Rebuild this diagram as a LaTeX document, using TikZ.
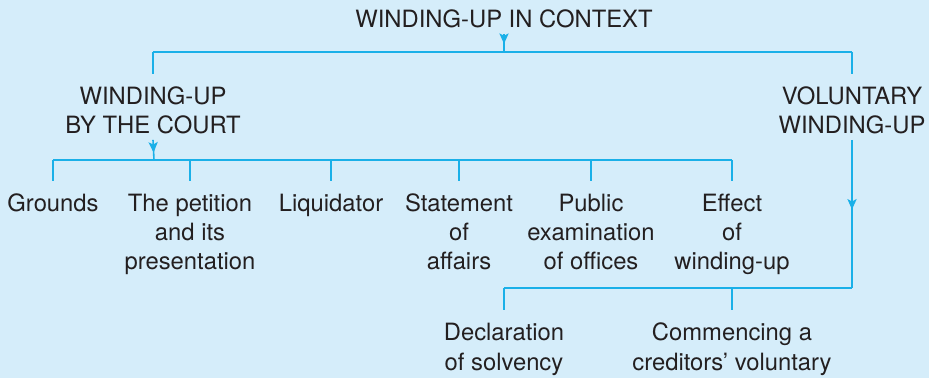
\documentclass[tikz,border=0pt]{standalone}
\usepackage{fontspec}
\setmainfont{TeX Gyre Heros}
\usetikzlibrary{arrows.meta,decorations.markings}
\definecolor{figBg}{HTML}{D5EDFA}
\definecolor{figLine}{HTML}{1AB0E8}
\definecolor{figText}{HTML}{231F20}

\begin{document}
\begin{tikzpicture}[x=0.5pt,y=-0.5pt,
  lbl/.style={anchor=base,align=center,inner sep=2.5pt,text=figText,font=\fontsize{11.9pt}{14.5pt}\selectfont},
  cline/.style={figLine,line width=0.8pt},
  drop/.style={cline,shorten >=4pt},
  midarrow/.style={postaction={decorate},decoration={markings,mark=at position #1 with {\arrow{Stealth[length=5.2pt,width=4.6pt,inset=1.2pt]}}}}]
\fill[figBg] (0,0) rectangle (929,378);
\useasboundingbox (0,0) rectangle (929,378);
\node[lbl] (context) at (504,28) {WINDING-UP IN CONTEXT};
\node[lbl] (court) at (153,134) {WINDING-UP\\BY THE COURT};
\node[lbl] (voluntary) at (852,134) {VOLUNTARY\\WINDING-UP};
\node[lbl] (grounds) at (53,212) {Grounds};
\node[lbl] (petition) at (190,270) {The petition\\and its\\presentation};
\node[lbl] (liquidator) at (331,212) {Liquidator};
\node[lbl] (statement) at (459,270) {Statement\\of\\affairs};
\node[lbl] (publicex) at (591,270) {Public\\examination\\of offices};
\node[lbl] (effect) at (732,270) {Effect\\of\\winding-up};
\node[lbl] (declaration) at (504,370) {Declaration\\of solvency};
\node[lbl] (commencing) at (732,370) {Commencing a\\creditors' voluntary};
\coordinate (topjoin) at (504,52);
\coordinate (courtjoin) at (154,160);
\coordinate (voljoin) at (852,288);

\draw[cline,midarrow=0.55] (context.south) -- (topjoin);
\draw[cline] (court |- topjoin) -- (voluntary |- topjoin);
\draw[drop] (court |- topjoin) -- (court.north);
\draw[drop] (voluntary |- topjoin) -- (voluntary.north);

\draw[cline,midarrow=0.63] (court.south) -- (courtjoin);
\draw[cline] (grounds |- courtjoin) -- (effect |- courtjoin);
\foreach \n in {grounds,petition,liquidator,statement,publicex,effect}
  \draw[drop] (\n |- courtjoin) -- (\n.north);

\draw[cline,midarrow=0.47] (voluntary.south) -- (voljoin);
\draw[cline] (declaration |- voljoin) -- (voljoin);
\draw[drop] (declaration |- voljoin) -- (declaration.north);
\draw[drop] (commencing |- voljoin) -- (commencing.north);
\end{tikzpicture}
\end{document}
